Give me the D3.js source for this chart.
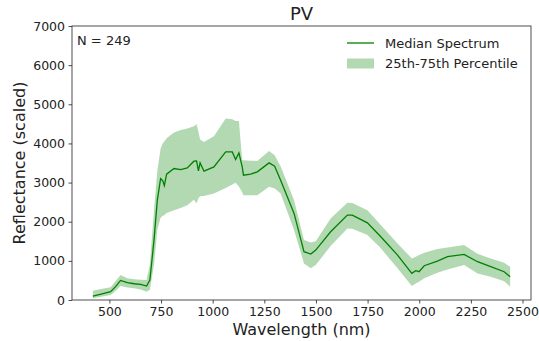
<!DOCTYPE html>
<html>
<head>
<meta charset="utf-8">
<script src="https://cdn.jsdelivr.net/npm/d3@7"></script>
<style>
  html, body { margin: 0; padding: 0; background: #fff; }
  svg text { font-family: "DejaVu Sans", sans-serif; fill: #222; }
</style>
</head>
<body>
<svg id="chart" width="539" height="341"></svg>
<script>
const wavelengths = [420, 460, 506, 530, 554, 587, 620, 651, 680, 696, 716, 732, 748, 758, 766, 777, 813, 845, 877, 909, 922, 931, 939, 958, 1006, 1063, 1095, 1111, 1127, 1143, 1149, 1184, 1216, 1273, 1300, 1329, 1394, 1442, 1475, 1499, 1571, 1652, 1676, 1749, 1814, 1895, 1964, 1983, 1999, 2024, 2088, 2137, 2217, 2282, 2346, 2411, 2440];
const median = [100, 150, 213, 340, 500, 442, 415, 400, 357, 510, 1530, 2550, 3100, 3050, 2920, 3214, 3359, 3333, 3375, 3546, 3554, 3299, 3503, 3290, 3401, 3784, 3784, 3588, 3758, 3400, 3189, 3214, 3274, 3503, 3420, 3060, 2211, 1233, 1173, 1276, 1743, 2168, 2168, 1972, 1616, 1148, 680, 748, 723, 876, 995, 1106, 1165, 978, 850, 723, 595];
const p75 = [238, 280, 323, 480, 638, 553, 530, 520, 510, 900, 2296, 3300, 3869, 4000, 4050, 4130, 4280, 4340, 4379, 4440, 4490, 4300, 4100, 4039, 4184, 4635, 4620, 4574, 4574, 3571, 3571, 3560, 3554, 3809, 3700, 3420, 2551, 1531, 1470, 1500, 2084, 2482, 2480, 2296, 1913, 1446, 1063, 1106, 1150, 1207, 1301, 1340, 1403, 1180, 1060, 950, 850];
const p25 = [43, 80, 128, 230, 357, 320, 298, 270, 213, 260, 900, 1800, 2100, 2150, 2168, 2220, 2296, 2350, 2423, 2560, 2466, 2600, 2653, 2660, 2721, 2860, 2950, 2993, 2900, 2750, 2679, 2679, 2679, 2891, 2850, 2721, 1786, 935, 808, 893, 1378, 1829, 1820, 1658, 1319, 808, 357, 420, 467, 553, 697, 780, 893, 680, 595, 480, 340];
const xTicks = [500, 750, 1000, 1250, 1500, 1750, 2000, 2250, 2500];
const yTicks = [0, 1000, 2000, 3000, 4000, 5000, 6000, 7000];
const titleText = "PV";
const xLabel = "Wavelength (nm)";
const yLabel = "Reflectance (scaled)";
const nLabel = "N = 249";
const legendLabels = ["Median Spectrum", "25th-75th Percentile"];

const data = wavelengths.map((w, i) => ({w, m: median[i], lo: p25[i], hi: p75[i]}));

const margin = {left: 72, right: 539 - 531, top: 26, bottom: 341 - 300};
const W = 539, H = 341;
const svg = d3.select("#chart");

const x = d3.scaleLinear().domain([319, 2541]).range([margin.left, W - margin.right]);
const y = d3.scaleLinear().domain([0, 7000]).range([H - margin.bottom, margin.top]);

const col = "green";

svg.append("path")
  .datum(data)
  .attr("fill", col)
  .attr("fill-opacity", 0.3)
  .attr("stroke", "none")
  .attr("d", d3.area().x(d => x(d.w)).y0(d => y(d.lo)).y1(d => y(d.hi)));

svg.append("path")
  .datum(data)
  .attr("fill", "none")
  .attr("stroke", col)
  .attr("stroke-width", 1.3)
  .attr("d", d3.line().x(d => x(d.w)).y(d => y(d.m)));

// frame
svg.append("rect")
  .attr("x", margin.left).attr("y", margin.top)
  .attr("width", W - margin.right - margin.left)
  .attr("height", H - margin.bottom - margin.top)
  .attr("fill", "none").attr("stroke", "#222").attr("stroke-width", 0.8);

const xAxis = svg.append("g")
  .attr("transform", `translate(0,${H - margin.bottom})`)
  .call(d3.axisBottom(x).tickValues(xTicks).tickSize(3.5).tickPadding(3.5).tickFormat(d3.format("d")));
const yAxis = svg.append("g")
  .attr("transform", `translate(${margin.left},0)`)
  .call(d3.axisLeft(y).tickValues(yTicks).tickSize(3.5).tickPadding(3.5).tickFormat(d3.format("d")));
[xAxis, yAxis].forEach(g => {
  g.select(".domain").remove();
  g.selectAll(".tick line").attr("stroke", "#222").attr("stroke-width", 0.8);
  g.selectAll(".tick text").attr("font-size", 12.5).attr("fill", "#222").attr("font-family", "DejaVu Sans, sans-serif");
});

svg.append("text")
  .attr("x", (margin.left + W - margin.right) / 2).attr("y", 20)
  .attr("text-anchor", "middle").attr("font-size", 18).text(titleText);

svg.append("text")
  .attr("x", (margin.left + W - margin.right) / 2).attr("y", 335)
  .attr("text-anchor", "middle").attr("font-size", 16).text(xLabel);

svg.append("text")
  .attr("transform", `translate(25,${(margin.top + H - margin.bottom) / 2}) rotate(-90)`)
  .attr("text-anchor", "middle").attr("font-size", 16).text(yLabel);

svg.append("text")
  .attr("x", 77).attr("y", 45).attr("font-size", 13).text(nLabel);

// legend
const lg = svg.append("g");
lg.append("line").attr("x1", 347).attr("x2", 374).attr("y1", 43).attr("y2", 43)
  .attr("stroke", col).attr("stroke-width", 1.3);
lg.append("text").attr("x", 385).attr("y", 48).attr("font-size", 13).text(legendLabels[0]);
lg.append("rect").attr("x", 347).attr("y", 58.5).attr("width", 27).attr("height", 10)
  .attr("fill", col).attr("fill-opacity", 0.3);
lg.append("text").attr("x", 385).attr("y", 68).attr("font-size", 13).text(legendLabels[1]);
</script>
</body>
</html>
